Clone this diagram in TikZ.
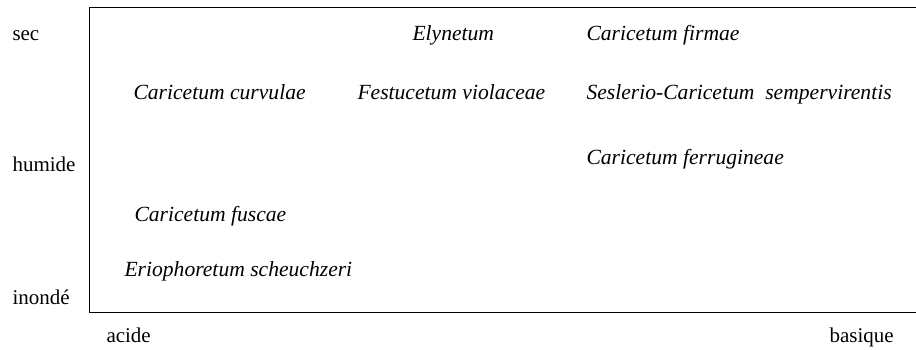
\documentclass[tikz,border=0pt]{standalone}
\usepackage{fontspec}
\setmainfont{Liberation Serif}

\begin{document}
\begin{tikzpicture}[x=0.5pt, y=-0.5pt, line width=0.5pt,
    axis/.style={anchor=mid west, inner sep=0pt, font=\fontsize{10.5}{12}\selectfont},
    assoc/.style={anchor=mid west, inner sep=0pt, font=\fontsize{10.8}{12}\selectfont\itshape}]
  \useasboundingbox (0,0) rectangle (916,349);
  % open frame, no right edge
  \coordinate (TR) at (916,7);
  \coordinate (TL) at (89,7);
  \coordinate (BL) at (89,312);
  \coordinate (BR) at (916,312);
  \draw (TR) -- (TL) -- (BL) -- (BR);
  % moisture axis
  \node[axis] (sec) at (12,36) {sec};
  \node[axis] (humide) at (12,167) {humide};
  \node[axis] (inonde) at (12,300) {inondé};
  % pH axis
  \node[axis] (acide) at (106,338) {acide};
  \node[axis] (basique) at (829,338) {basique};
  % plant associations
  \node[assoc] (elyn) at (412,36) {Elynetum};
  \node[assoc] (firm) at (586,36) {Caricetum firmae};
  \node[assoc] (curv) at (133,95) {Caricetum curvulae};
  \node[assoc] (fest) at (357,95) {Festucetum violaceae};
  \node[assoc] (sesl) at (586,95) {Seslerio-Caricetum\ \ sempervirentis};
  \node[assoc] (ferr) at (586,160) {Caricetum ferrugineae};
  \node[assoc] (fusc) at (134,217) {Caricetum fuscae};
  \node[assoc] (erio) at (124,272) {Eriophoretum scheuchzeri};
\end{tikzpicture}
\end{document}
